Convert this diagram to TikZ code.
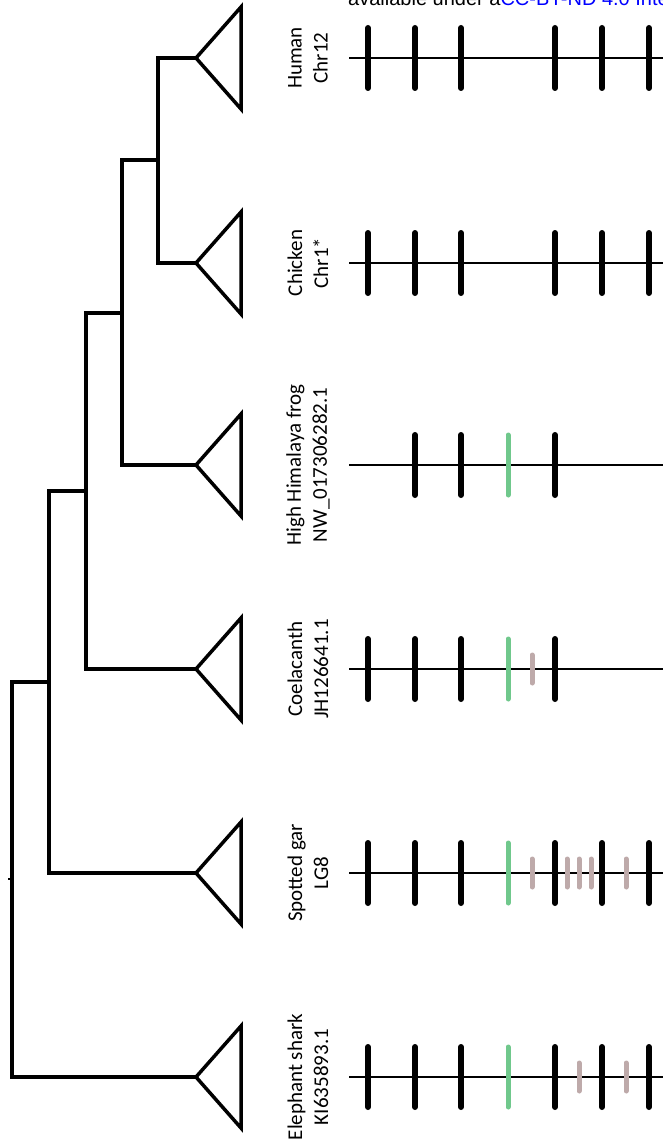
\documentclass[tikz,border=0pt]{standalone}
\usepackage{fontspec}
\newfontfamily\labfont{Carlito}
\newfontfamily\stampfont{Liberation Sans}
\definecolor{tickgreen}{RGB}{112,200,140}
\definecolor{tickbrown}{RGB}{190,170,170}
\definecolor{linkblue}{RGB}{0,0,255}
\begin{document}
\begin{tikzpicture}[x=1pt,y=-1pt,
  tree/.style={line width=3.5pt, line join=miter},
  clade/.style={line width=3.5pt, line join=miter},
  chrom/.style={line width=2.5pt},
  gene/.style={line width=6pt, line cap=round},
  greengene/.style={line width=5pt, line cap=round, draw=tickgreen},
  browngene/.style={line width=5pt, line cap=round, draw=tickbrown},
  lab/.style={rotate=90, align=center, inner sep=0pt, font=\labfont\fontsize{21}{26}\selectfont}]
\clip (0,0) rectangle (663,1142);
% stamp text (cut off at top)
\node[anchor=base west, inner sep=0pt, font=\stampfont\fontsize{20}{24}\selectfont] (stamp) at (348,6)
  {available under a\textcolor{linkblue}{CC-BY-ND 4.0 International license.}};
% leaf apexes
\coordinate (human) at (196,58);
\coordinate (chicken) at (196,263);
\coordinate (frog) at (196,465);
\coordinate (coel) at (196,669);
\coordinate (gar) at (196,873);
\coordinate (shark) at (196,1077);
% internal nodes
\coordinate (n1) at (158,160);
\coordinate (n2) at (122,313);
\coordinate (n3) at (86,491);
\coordinate (n4) at (49,682);
\coordinate (n5) at (12,879);
\coordinate (stub) at (8,879);
% tree
\draw[tree] (n1) |- (human);
\draw[tree] (n1) |- (chicken);
\draw[tree] (n2) |- (n1);
\draw[tree] (n2) |- (frog);
\draw[tree] (n3) |- (n2);
\draw[tree] (n3) |- (coel);
\draw[tree] (n4) |- (n3);
\draw[tree] (n4) |- (gar);
\draw[tree] (n5) |- (n4);
\draw[tree] (n5) |- (shark);
\draw[line width=2pt] (stub) -- (n5);
% collapsed clades
\foreach \c in {human,chicken,frog,coel,gar,shark}
  \draw[clade] (\c) -- ++(45,-51) -- ++(0,102) -- cycle;
% labels
\node[lab] (lhuman) at (308,58) {Human\\Chr12};
\node[lab] (lchicken) at (308,263) {Chicken\\Chr1*};
\node[lab] (lfrog) at (308,465) {High Himalaya frog\\NW\_017306282.1};
\node[lab] (lcoel) at (308,669) {Coelacanth\\JH126641.1};
\node[lab] (lgar) at (308,873) {Spotted gar\\LG8};
\node[lab] (lshark) at (308,1077) {Elephant shark\\KI635893.1};
% chromosome backbones
\foreach \y in {58,263,465,669,873,1077}
  \draw[chrom] (349,\y) -- (670,\y);
% Human
\foreach \x in {368,415,461,555,602,649} \draw[gene] (\x,28) -- (\x,88);
% Chicken
\foreach \x in {368,415,461,555,602,649} \draw[gene] (\x,233) -- (\x,293);
% Frog
\foreach \x in {415,461,555} \draw[gene] (\x,435) -- (\x,495);
\draw[greengene] (508,435) -- (508,495);
% Coelacanth
\foreach \x in {368,415,461,555} \draw[gene] (\x,639) -- (\x,699);
\draw[greengene] (508,639) -- (508,699);
\draw[browngene] (532,655) -- (532,683);
% Spotted gar
\foreach \x in {368,415,461,555,602,649} \draw[gene] (\x,843) -- (\x,903);
\draw[greengene] (508,843) -- (508,903);
\foreach \x in {532,567,579,591,626} \draw[browngene] (\x,859) -- (\x,887);
% Elephant shark
\foreach \x in {368,415,461,555,602,649} \draw[gene] (\x,1047) -- (\x,1107);
\draw[greengene] (508,1047) -- (508,1107);
\foreach \x in {579,626} \draw[browngene] (\x,1063) -- (\x,1091);
\end{tikzpicture}
\end{document}
